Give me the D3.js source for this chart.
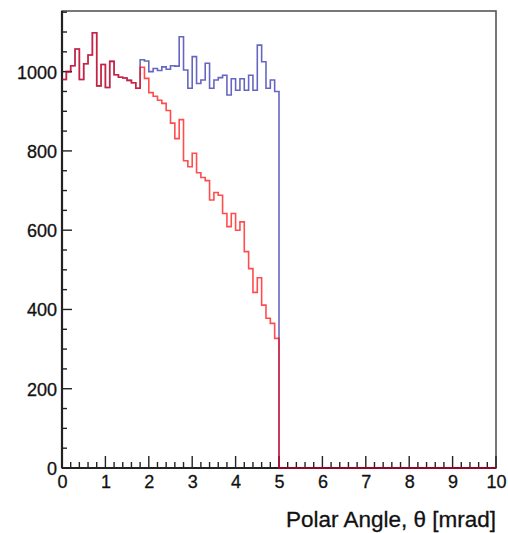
<!DOCTYPE html>
<html>
<head>
<meta charset="utf-8">
<script src="https://cdn.jsdelivr.net/npm/d3@7"></script>
<style>
  body { margin: 0; background: #fff; }
  svg { display: block; }
  text { font-family: "Liberation Sans", Arial, Helvetica, sans-serif; fill: #111; stroke: #111; stroke-width: 0.3px; }
</style>
</head>
<body>
<svg id="chart" width="508" height="533"></svg>
<script>
// Histogram binning: 0.1 mrad bins over 0–10 mrad (bins above 5 mrad are empty)
const binWidth = 0.1;
const xDomain = [0, 10];
const yDomainMax = 1153;

const xTickValues = [0, 1, 2, 3, 4, 5, 6, 7, 8, 9, 10];
const yTickValues = [0, 200, 400, 600, 800, 1000];
const xTitle = "Polar Angle, θ [mrad]";

// Counts per bin, 0–5 mrad
const blueCounts = [
  980, 1000, 1015, 1057, 980, 1020, 1042, 1098, 964, 1018,
  960, 1026, 992, 986, 984, 978, 972, 958, 1030, 1027,
  1000, 1008, 1003, 1012, 1006, 1015, 1014, 1088, 1004, 958,
  1038, 970, 979, 1021, 958, 979, 985, 991, 941, 982,
  953, 982, 953, 991, 953, 1067, 1025, 958, 979, 950
];
const redCounts = [
  980, 1000, 1015, 1057, 980, 1020, 1042, 1098, 964, 1018,
  960, 1026, 992, 986, 984, 978, 972, 958, 1011, 983,
  947, 938, 928, 920, 902, 870, 831, 879, 775, 760,
  794, 745, 733, 725, 676, 695, 688, 642, 609, 642,
  600, 621, 546, 503, 443, 480, 411, 378, 365, 327
];

const frame = { left: 62, right: 496, top: 11, bottom: 468 };
const svg = d3.select("#chart");

const x = d3.scaleLinear().domain(xDomain).range([frame.left, frame.right]);
const y = d3.scaleLinear().domain([0, yDomainMax]).range([frame.bottom, frame.top]);

// Frame box
svg.append("rect")
  .attr("x", frame.left).attr("y", frame.top)
  .attr("width", frame.right - frame.left).attr("height", frame.bottom - frame.top)
  .attr("fill", "none").attr("stroke", "#555").attr("stroke-width", 1.6);

// X axis: major ticks at integers, minor ticks every 0.2, drawn inward
const xMinor = d3.range(0, 51).map(i => i * 0.2).filter(v => Math.abs(v - Math.round(v)) > 1e-6);
const xAxis = d3.axisBottom(x).tickValues(xTickValues).tickSize(0).tickPadding(0).tickFormat(d3.format("d"));
const gx = svg.append("g").attr("transform", `translate(0,${frame.bottom})`).call(xAxis);
gx.select(".domain").remove();
gx.selectAll("text").attr("y", 20).attr("dy", 0).style("font-size", "18px");
svg.append("g").selectAll("line").data(xTickValues).join("line")
  .attr("x1", d => x(d)).attr("x2", d => x(d))
  .attr("y1", frame.bottom).attr("y2", frame.bottom - 12)
  .attr("stroke", "#222").attr("stroke-width", 1.4);
svg.append("g").selectAll("line").data(xMinor).join("line")
  .attr("x1", d => x(d)).attr("x2", d => x(d))
  .attr("y1", frame.bottom).attr("y2", frame.bottom - 6)
  .attr("stroke", "#222").attr("stroke-width", 1.4);

// Y axis: major ticks every 200, minor ticks every 50
const yMinor = d3.range(0, 24).map(i => i * 50).filter(v => v % 200 !== 0 && v < yDomainMax);
const yAxis = d3.axisLeft(y).tickValues(yTickValues).tickSize(0).tickPadding(0).tickFormat(d3.format("d"));
const gy = svg.append("g").attr("transform", `translate(${frame.left},0)`).call(yAxis);
gy.select(".domain").remove();
gy.selectAll("text").attr("x", -5).attr("dy", "0.36em").style("font-size", "18px");
svg.append("g").selectAll("line").data(yTickValues).join("line")
  .attr("x1", frame.left).attr("x2", frame.left + 10)
  .attr("y1", d => y(d)).attr("y2", d => y(d))
  .attr("stroke", "#222").attr("stroke-width", 1.4);
svg.append("g").selectAll("line").data(yMinor).join("line")
  .attr("x1", frame.left).attr("x2", frame.left + 5)
  .attr("y1", d => y(d)).attr("y2", d => y(d))
  .attr("stroke", "#222").attr("stroke-width", 1.4);

// Axis lines
svg.append("line").attr("x1", frame.left).attr("x2", frame.right)
  .attr("y1", frame.bottom).attr("y2", frame.bottom)
  .attr("stroke", "#222").attr("stroke-width", 2.2);
svg.append("line").attr("x1", frame.left).attr("x2", frame.left)
  .attr("y1", frame.top).attr("y2", frame.bottom)
  .attr("stroke", "#222").attr("stroke-width", 2.2);

// Step outline of a histogram, closed down to zero and continued over empty bins
function stepPath(counts) {
  const p = d3.path();
  p.moveTo(x(0), y(counts[0]));
  counts.forEach((c, i) => {
    if (i > 0) p.lineTo(x(i * binWidth), y(c));
    p.lineTo(x((i + 1) * binWidth), y(c));
  });
  p.lineTo(x(counts.length * binWidth), y(0));
  p.lineTo(x(xDomain[1]), y(0));
  return p.toString();
}

svg.append("path").attr("d", stepPath(blueCounts))
  .attr("fill", "none").attr("stroke", "rgb(0,0,153)").attr("stroke-opacity", 0.6)
  .attr("stroke-width", 1.6);
svg.append("path").attr("d", stepPath(redCounts))
  .attr("fill", "none").attr("stroke", "rgb(255,0,0)").attr("stroke-opacity", 0.7)
  .attr("stroke-width", 1.6);

// Axis title, right-aligned under the axis
svg.append("text").attr("x", frame.right).attr("y", 527)
  .attr("text-anchor", "end").style("font-size", "22.5px").text(xTitle);
</script>
</body>
</html>
